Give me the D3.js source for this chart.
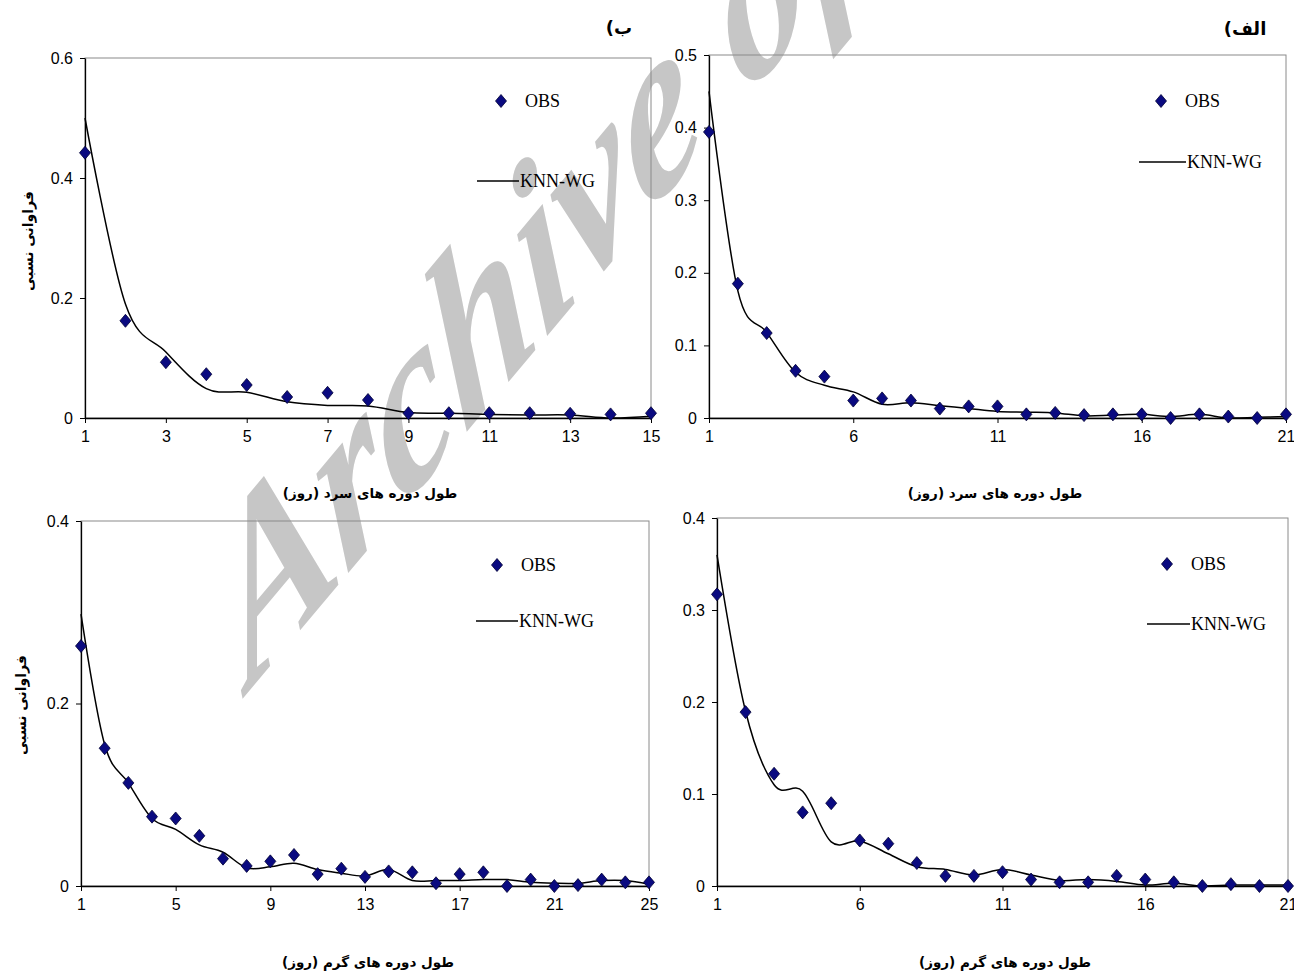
<!DOCTYPE html>
<html>
<head>
<meta charset="utf-8">
<script src="https://cdn.jsdelivr.net/npm/d3@7"></script>
<style>
  html, body { margin: 0; padding: 0; background: #fff; }
  svg { display: block; }
</style>
</head>
<body>
<svg id="chart" width="1294" height="972"></svg>
<script>
// ---------------- DATA ----------------
// (ب) cold spells
const daysColdB = [1,2,3,4,5,6,7,8,9,10,11,12,13,14,15];
const obsColdB  = [0.442,0.162,0.093,0.073,0.055,0.035,0.042,0.030,0.008,0.008,0.008,0.008,0.007,0.006,0.008];
const knnColdB  = [0.500,0.190,0.110,0.049,0.043,0.027,0.021,0.020,0.009,0.008,0.006,0.005,0.005,0.000,0.003];
const xTicksColdB = [1,3,5,7,9,11,13,15];
const yTicksColdB = [0,0.2,0.4,0.6];

// (الف) cold spells
const daysColdA = [1,2,3,4,5,6,7,8,9,10,11,12,13,14,15,16,17,18,19,20,21];
const obsColdA  = [0.394,0.185,0.117,0.065,0.057,0.024,0.027,0.024,0.013,0.016,0.016,0.005,0.007,0.004,0.005,0.005,0.000,0.005,0.002,0.000,0.005];
const knnColdA  = [0.450,0.175,0.118,0.063,0.045,0.036,0.019,0.021,0.017,0.013,0.009,0.008,0.007,0.003,0.004,0.005,0.002,0.005,0.000,0.001,0.002];
const xTicksColdA = [1,6,11,16,21];
const yTicksColdA = [0,0.1,0.2,0.3,0.4,0.5];

// (ب) warm spells
const daysWarmB = [1,2,3,4,5,6,7,8,9,10,11,12,13,14,15,16,17,18,19,20,21,22,23,24,25];
const obsWarmB  = [0.263,0.151,0.113,0.076,0.074,0.055,0.030,0.022,0.027,0.034,0.013,0.019,0.010,0.016,0.015,0.003,0.013,0.015,0.000,0.007,0.000,0.001,0.007,0.004,0.004];
const knnWarmB  = [0.298,0.155,0.113,0.074,0.062,0.045,0.037,0.020,0.021,0.025,0.018,0.014,0.011,0.018,0.006,0.006,0.006,0.007,0.007,0.004,0.003,0.003,0.006,0.006,0.002];
const xTicksWarmB = [1,5,9,13,17,21,25];
const yTicksWarmB = [0,0.2,0.4];

// (الف) warm spells
const daysWarmA = [1,2,3,4,5,6,7,8,9,10,11,12,13,14,15,16,17,18,19,20,21];
const obsWarmA  = [0.317,0.189,0.122,0.080,0.090,0.0495,0.046,0.025,0.011,0.011,0.015,0.007,0.004,0.004,0.011,0.007,0.004,0.000,0.002,0.000,0.000];
const knnWarmA  = [0.360,0.190,0.110,0.103,0.048,0.049,0.035,0.021,0.018,0.012,0.018,0.012,0.006,0.007,0.005,0.001,0.003,0.000,0.001,0.001,0.001];
const xTicksWarmA = [1,6,11,16,21];
const yTicksWarmA = [0,0.1,0.2,0.3,0.4];

const seriesNames = ["OBS", "KNN-WG"];
const xTitleCold = "طول دوره های سرد (روز)";
const xTitleWarm = "طول دوره های گرم (روز)";
const yTitle = "فراوانی نسبی";
const panelLabelB = "ب)";
const panelLabelA = "الف)";
const watermark = "Archive of SID";

// ---------------- LAYOUT ----------------
const panels = [
  { days: daysColdB, obs: obsColdB, knn: knnColdB, xTicks: xTicksColdB, yTicks: yTicksColdB,
    left: 85, right: 651, top: 58, bottom: 418,
    legObs: [501, 101], legKnn: [477, 519, 181],
    xTitle: xTitleCold, xTitlePos: [370, 493], yTitlePos: [28, 241] },
  { days: daysColdA, obs: obsColdA, knn: knnColdA, xTicks: xTicksColdA, yTicks: yTicksColdA,
    left: 709, right: 1286, top: 55, bottom: 418,
    legObs: [1161, 101], legKnn: [1139, 1186, 162],
    xTitle: xTitleCold, xTitlePos: [995, 493], yTitlePos: null },
  { days: daysWarmB, obs: obsWarmB, knn: knnWarmB, xTicks: xTicksWarmB, yTicks: yTicksWarmB,
    left: 81, right: 649, top: 521, bottom: 886,
    legObs: [497, 565], legKnn: [476, 518, 621],
    xTitle: xTitleWarm, xTitlePos: [368, 962], yTitlePos: [21, 705] },
  { days: daysWarmA, obs: obsWarmA, knn: knnWarmA, xTicks: xTicksWarmA, yTicks: yTicksWarmA,
    left: 717, right: 1288, top: 518, bottom: 886,
    legObs: [1167, 564], legKnn: [1147, 1190, 624],
    xTitle: xTitleWarm, xTitlePos: [1005, 962], yTitlePos: null }
];

const svg = d3.select("#chart");

// watermark (sheared, behind everything)
svg.append("text")
  .attr("transform", "matrix(0.643,-0.766,0.342,0.940,250,690)")
  .attr("font-family", "Liberation Serif, serif")
  .attr("font-weight", "bold")
  .attr("font-style", "italic")
  .attr("font-size", 222)
  .attr("fill", "#c6c6c6")
  .text(watermark);

const diamond = "M0,-6.5L5.5,0L0,6.5L-5.5,0Z";
const tickFont = "Liberation Sans, Arial, sans-serif";
const serifFont = "Liberation Serif, Times New Roman, serif";
const faFont = "DejaVu Sans, sans-serif";

panels.forEach(p => {
  const g = svg.append("g");
  const x = d3.scaleLinear().domain([p.days[0], p.days[p.days.length - 1]]).range([p.left, p.right]);
  const yMax = p.yTicks[p.yTicks.length - 1];
  const y = d3.scaleLinear().domain([0, yMax]).range([p.bottom, p.top]);

  // plot-area frame
  g.append("rect")
    .attr("x", p.left).attr("y", p.top)
    .attr("width", p.right - p.left).attr("height", p.bottom - p.top)
    .attr("fill", "none").attr("stroke", "#8a8a8a").attr("stroke-width", 1);

  // axes
  const xAxis = d3.axisBottom(x).tickValues(p.xTicks).tickSize(5).tickSizeOuter(0).tickPadding(8)
    .tickFormat(d3.format("d"));
  const yAxis = d3.axisLeft(y).tickValues(p.yTicks).tickSize(5).tickSizeOuter(0).tickPadding(7)
    .tickFormat(d => d === 0 ? "0" : d3.format(".1f")(d));

  const gx = g.append("g").attr("transform", `translate(0,${p.bottom})`).call(xAxis);
  const gy = g.append("g").attr("transform", `translate(${p.left},0)`).call(yAxis);
  [gx, gy].forEach(a => {
    a.selectAll("path.domain").attr("stroke", "#000").attr("stroke-width", 1.3);
    a.selectAll(".tick line").attr("stroke", "#000").attr("stroke-width", 1);
    a.selectAll(".tick text").attr("font-family", tickFont).attr("font-size", 16).attr("fill", "#000");
  });

  // KNN-WG line
  const line = d3.line()
    .x((d, i) => x(p.days[i]))
    .y(d => y(d))
    .curve(d3.curveCardinal.tension(0));
  g.append("path")
    .datum(p.knn)
    .attr("d", line)
    .attr("fill", "none")
    .attr("stroke", "#000")
    .attr("stroke-width", 1.5);

  // OBS diamonds
  g.selectAll("path.obs")
    .data(p.obs)
    .join("path")
    .attr("class", "obs")
    .attr("d", diamond)
    .attr("transform", (d, i) => `translate(${x(p.days[i])},${y(d)})`)
    .attr("fill", "#0a0a80")
    .attr("stroke", "#000033")
    .attr("stroke-width", 0.8);

  // legend
  g.append("path").attr("d", diamond)
    .attr("transform", `translate(${p.legObs[0]},${p.legObs[1]})`)
    .attr("fill", "#0a0a80").attr("stroke", "#000033").attr("stroke-width", 0.8);
  g.append("text").attr("x", p.legObs[0] + 24).attr("y", p.legObs[1] + 6)
    .attr("font-family", serifFont).attr("font-size", 18).attr("fill", "#000")
    .text(seriesNames[0]);
  g.append("line")
    .attr("x1", p.legKnn[0]).attr("x2", p.legKnn[1])
    .attr("y1", p.legKnn[2]).attr("y2", p.legKnn[2])
    .attr("stroke", "#000").attr("stroke-width", 1.5);
  g.append("text").attr("x", p.legKnn[1] + 1).attr("y", p.legKnn[2] + 6)
    .attr("font-family", serifFont).attr("font-size", 18).attr("fill", "#000")
    .text(seriesNames[1]);

  // x title
  g.append("text")
    .attr("x", p.xTitlePos[0]).attr("y", p.xTitlePos[1] + 5)
    .attr("text-anchor", "middle")
    .attr("direction", "rtl")
    .attr("font-family", faFont).attr("font-weight", "bold").attr("font-size", 13.5)
    .text(p.xTitle);

  // y title
  if (p.yTitlePos) {
    g.append("text")
      .attr("transform", `translate(${p.yTitlePos[0]},${p.yTitlePos[1]}) rotate(-90)`)
      .attr("text-anchor", "middle")
      .attr("dy", "0.35em")
      .attr("direction", "rtl")
      .attr("font-family", faFont).attr("font-weight", "bold").attr("font-size", 14)
      .text(yTitle);
  }
});

// panel labels
svg.append("text").attr("x", 619).attr("y", 34)
  .attr("text-anchor", "middle").attr("direction", "rtl")
  .attr("font-family", faFont).attr("font-weight", "bold").attr("font-size", 18)
  .text(panelLabelB);
svg.append("text").attr("x", 1245).attr("y", 35)
  .attr("text-anchor", "middle").attr("direction", "rtl")
  .attr("font-family", faFont).attr("font-weight", "bold").attr("font-size", 18)
  .text(panelLabelA);
</script>
</body>
</html>
